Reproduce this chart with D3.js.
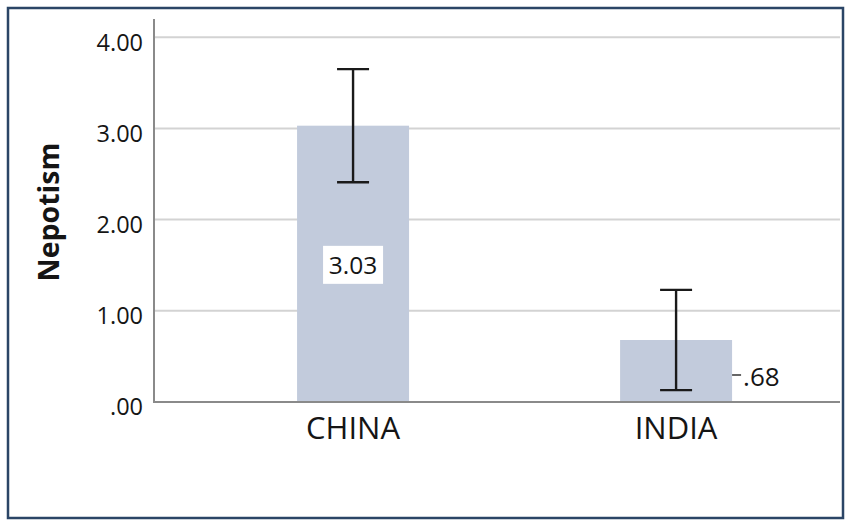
<!DOCTYPE html>
<html>
<head>
<meta charset="utf-8">
<script src="https://cdn.jsdelivr.net/npm/d3@7"></script>
<style>
  html, body { margin: 0; padding: 0; background: #fff; }
  svg { display: block; }
  text { font-family: "Open Sans", "Noto Sans", sans-serif; fill: #151515; }
</style>
</head>
<body>
<svg id="chart" width="851" height="527"></svg>
<script>
// ---- data ----
const categories = ["CHINA", "INDIA"];
const means = [3.03, 0.68];
const meanLabels = ["3.03", ".68"];
const ciLow = [2.41, 0.13];
const ciHigh = [3.65, 1.23];
const yTickValues = [0, 1, 2, 3, 4];
const yTickLabels = [".00", "1.00", "2.00", "3.00", "4.00"];
const yTitle = "Nepotism";

// ---- layout ----
const plot = { left: 154, right: 840, top: 19, bottom: 402 };
const FONT = "'Open Sans', 'Noto Sans', sans-serif";

const svg = d3.select("#chart");

// frame
svg.append("rect")
  .attr("x", 8).attr("y", 8)
  .attr("width", 835).attr("height", 510)
  .attr("fill", "#fff")
  .attr("stroke", "#2b4566")
  .attr("stroke-width", 2.5);

const x = d3.scaleBand()
  .domain(categories)
  .range([plot.left, plot.right])
  .paddingInner(0.6533)
  .paddingOuter(0.3885)
  .align(0.57);

const y = d3.scaleLinear()
  .domain([0, 4.2])
  .range([plot.bottom, plot.top]);

// gridlines
svg.append("g")
  .selectAll("line")
  .data(yTickValues.filter(v => v > 0))
  .join("line")
  .attr("x1", plot.left).attr("x2", plot.right)
  .attr("y1", d => y(d)).attr("y2", d => y(d))
  .attr("stroke", "#d3d3d3")
  .attr("stroke-width", 2);

// bars
svg.append("g")
  .selectAll("rect")
  .data(categories)
  .join("rect")
  .attr("x", d => x(d))
  .attr("width", x.bandwidth())
  .attr("y", (d, i) => y(means[i]))
  .attr("height", (d, i) => y(0) - y(means[i]))
  .attr("fill", "#c2cbdc");

// y axis
const yAxis = d3.axisLeft(y)
  .tickValues(yTickValues)
  .tickFormat((d, i) => yTickLabels[i])
  .tickSize(0)
  .tickPadding(11);
const gy = svg.append("g")
  .attr("transform", `translate(${plot.left},0)`)
  .call(yAxis);
gy.select(".domain").remove();
gy.selectAll("text")
  .attr("font-size", 23.5)
  .attr("font-family", FONT)
  .attr("fill", "#151515")
  .attr("dy", "0.55em");

// x axis
const xAxis = d3.axisBottom(x).tickSize(0).tickPadding(15);
const gx = svg.append("g")
  .attr("transform", `translate(0,${plot.bottom})`)
  .call(xAxis);
gx.select(".domain").remove();
gx.selectAll("text")
  .attr("font-size", 31)
  .attr("font-family", FONT)
  .attr("fill", "#151515");

// axis lines
svg.append("line")
  .attr("x1", plot.left).attr("x2", plot.left)
  .attr("y1", plot.top).attr("y2", plot.bottom + 1)
  .attr("stroke", "#8a8a8a").attr("stroke-width", 2);
svg.append("line")
  .attr("x1", plot.left - 1).attr("x2", plot.right)
  .attr("y1", y(0)).attr("y2", y(0))
  .attr("stroke", "#8a8a8a").attr("stroke-width", 2);

// error bars
const capW = 32;
const eb = svg.append("g").attr("stroke", "#1a1a1a").attr("stroke-width", 2.4);
categories.forEach((c, i) => {
  const cx = x(c) + x.bandwidth() / 2;
  eb.append("line").attr("x1", cx).attr("x2", cx)
    .attr("y1", y(ciLow[i])).attr("y2", y(ciHigh[i]));
  eb.append("line").attr("x1", cx - capW / 2).attr("x2", cx + capW / 2)
    .attr("y1", y(ciHigh[i])).attr("y2", y(ciHigh[i]));
  eb.append("line").attr("x1", cx - capW / 2).attr("x2", cx + capW / 2)
    .attr("y1", y(ciLow[i])).attr("y2", y(ciLow[i]));
});

// value labels
categories.forEach((c, i) => {
  const cy = (y(means[i]) + y(0)) / 2;
  if (i === 0) {
    const cx = x(c) + x.bandwidth() / 2;
    svg.append("rect")
      .attr("x", cx - 30).attr("y", cy - 18)
      .attr("width", 60).attr("height", 38)
      .attr("fill", "#fff");
    svg.append("text")
      .attr("x", cx).attr("y", cy + 1)
      .attr("text-anchor", "middle")
      .attr("dominant-baseline", "central")
      .attr("font-size", 24.5)
      .text(meanLabels[i]);
  } else {
    const rx = x(c) + x.bandwidth();
    svg.append("line")
      .attr("x1", rx).attr("x2", rx + 9)
      .attr("y1", cy + 4).attr("y2", cy + 4)
      .attr("stroke", "#333").attr("stroke-width", 1.5);
    svg.append("text")
      .attr("x", rx + 11).attr("y", cy + 5)
      .attr("dominant-baseline", "central")
      .attr("font-size", 26)
      .text(meanLabels[i]);
  }
});

// y title
svg.append("text")
  .attr("transform", "translate(59,212) rotate(-90)")
  .attr("text-anchor", "middle")
  .attr("font-size", 28.5)
  .attr("font-weight", "bold")
  .text(yTitle);
</script>
</body>
</html>
